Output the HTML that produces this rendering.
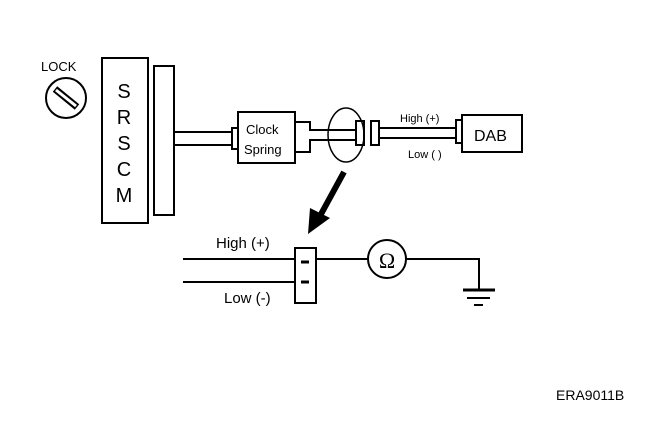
<!DOCTYPE html>
<html><head><style>body{margin:0;background:#fff}svg{display:block}</style></head><body>
<svg width="672" height="426" viewBox="0 0 672 426" xmlns="http://www.w3.org/2000/svg" font-family="Liberation Sans, sans-serif" fill="none" stroke="#000" stroke-width="2">
<text x="41" y="71" font-size="13" fill="#000" stroke="none">LOCK</text>
<circle cx="66" cy="98" r="20"/>
<line x1="55" y1="89" x2="77" y2="107" stroke-width="7"/>
<line x1="56" y1="90" x2="76" y2="106" stroke="#fff" stroke-width="3"/>
<rect x="102" y="58" width="46" height="165"/>
<g font-size="20" fill="#000" stroke="none" text-anchor="middle">
<text x="124" y="98">S</text><text x="124" y="124">R</text><text x="124" y="150">S</text><text x="124" y="176">C</text><text x="124" y="202">M</text></g>
<rect x="154" y="66" width="20" height="149"/>
<line x1="174" y1="132" x2="232" y2="132"/><line x1="174" y1="145" x2="232" y2="145"/>
<rect x="232" y="128" width="6" height="21"/>
<rect x="238" y="112" width="57" height="51"/>
<text x="246" y="134" font-size="13" fill="#000" stroke="none">Clock</text>
<text x="244" y="154" font-size="13" fill="#000" stroke="none">Spring</text>
<path d="M295 122 H310 V130 H356 M295 152 H310 V140 H356"/>
<ellipse cx="346" cy="135" rx="18" ry="27" stroke-width="1.5"/>
<rect x="356" y="121" width="8" height="24"/>
<rect x="371" y="121" width="8" height="24"/>
<line x1="379" y1="128" x2="456" y2="128"/><line x1="379" y1="138" x2="456" y2="138"/>
<rect x="456" y="120" width="6" height="23"/>
<rect x="462" y="115" width="60" height="37"/>
<text x="474" y="141" font-size="16" fill="#000" stroke="none">DAB</text>
<text x="400" y="122" font-size="11" fill="#000" stroke="none">High (+)</text>
<text x="408" y="158" font-size="11" fill="#000" stroke="none">Low ( )</text>
<line x1="344" y1="172" x2="320" y2="216" stroke-width="6"/>
<polygon points="308,234 310,208 330,218" fill="#000" stroke="none"/>
<line x1="183" y1="259" x2="295" y2="259"/><line x1="183" y1="282" x2="295" y2="282"/>
<rect x="295" y="248" width="21" height="55"/>
<line x1="301" y1="262" x2="309" y2="262" stroke-width="3"/>
<line x1="301" y1="282" x2="309" y2="282" stroke-width="3"/>
<line x1="316" y1="259" x2="368" y2="259"/>
<circle cx="387" cy="259" r="19"/>
<text x="387" y="268" font-size="22" fill="#000" stroke="none" text-anchor="middle" font-family="Liberation Serif, serif">Ω</text>
<path d="M406 259 H479 V290"/>
<line x1="463" y1="290" x2="495" y2="290" stroke-width="3"/>
<line x1="467" y1="298" x2="490" y2="298"/>
<line x1="474" y1="305" x2="483" y2="305"/>
<text x="216" y="248" font-size="15" fill="#000" stroke="none">High (+)</text>
<text x="224" y="303" font-size="15" fill="#000" stroke="none">Low (-)</text>
<text x="556" y="400" font-size="14" fill="#000" stroke="none">ERA9011B</text>
</svg>
</body></html>
